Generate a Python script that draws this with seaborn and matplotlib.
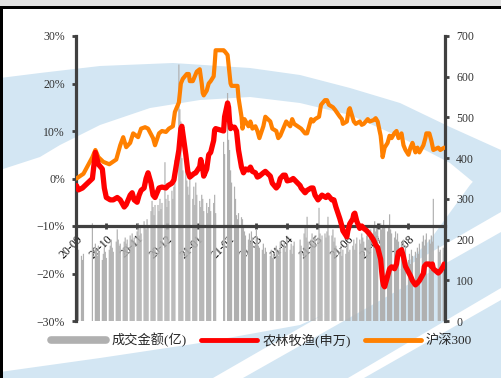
import numpy as np
import pandas as pd
import matplotlib
matplotlib.use("Agg")
import matplotlib.pyplot as plt
from matplotlib.lines import Line2D
from matplotlib.patches import Polygon, Rectangle
import seaborn as sns

# ---------------- data ----------------
holidays = ["2020-10-01", "2020-10-02", "2020-10-05", "2020-10-06", "2020-10-07", "2020-10-08",
            "2021-01-01", "2021-02-11", "2021-02-12", "2021-02-15", "2021-02-16", "2021-02-17",
            "2021-04-05", "2021-05-03", "2021-05-04", "2021-05-05", "2021-06-14",
            "2021-09-20", "2021-09-21"]

# turnover (亿), one value per trading day, grouped by week
volume = [
    170, 185, 175,
    160, 150, 165,
    240,
    190, 175, 160, 185, 170,
    150, 165, 180, 170, 155,
    175, 185, 200, 180, 170,
    195, 225, 200, 185, 190,
    180, 195, 205, 190, 200,
    210, 200, 215, 195, 205,
    220, 240, 210, 230, 215,
    245, 230, 225, 250, 235,
    270, 295, 280, 260, 285,
    285, 270, 300, 275, 290,
    390, 300, 280, 310, 295,
    320, 300, 330, 395,
    630, 520, 490, 400, 370,
    380, 345, 330, 310, 350,
    300, 330, 285, 340, 310,
    295, 280, 310, 300, 270,
    290, 265, 280, 300, 270,
    290, 310, 265,
    440, 410,
    560, 445, 420, 370, 340,
    330, 300, 260, 250, 265,
    255, 250, 230, 220, 210,
    200, 215, 190, 220, 205,
    190, 225, 200, 185, 180,
    175, 190, 165, 180, 170,
    160, 175, 155, 165,
    185, 170, 160, 175, 195,
    180, 195, 170, 185, 200,
    175, 190, 165, 185, 195,
    200, 185,
    215, 230, 205, 256, 195,
    200, 215, 190, 205, 210,
    205, 278, 215, 200, 210,
    215, 205, 220, 256, 210,
    210, 225, 195, 205, 185,
    170, 185, 160, 175,
    165, 180, 190, 170, 175,
    185, 200, 175, 190, 205,
    200, 190, 215, 205, 195,
    210, 220, 200, 215, 225,
    230, 245, 220, 235, 225,
    240, 225, 235, 248, 230,
    220, 235, 262, 225, 215,
    205, 220, 200, 215, 195,
    190, 175, 200, 165, 185,
    150, 165, 140, 175, 160,
    170, 155, 180, 165, 190,
    195, 210, 185, 200, 215,
    200, 190, 210, 195, 300,
    185, 170, 175,
    180, 165,
]

# 沪深300, cumulative change (%)
hs300_dates = [
    "2020-09-23", "2020-09-30", "2020-10-09", "2020-10-12", "2020-10-15", "2020-10-20", "2020-10-26",
    "2020-11-02", "2020-11-06", "2020-11-09", "2020-11-12", "2020-11-16", "2020-11-19", "2020-11-24",
    "2020-11-27", "2020-12-01", "2020-12-04", "2020-12-09", "2020-12-11", "2020-12-15", "2020-12-18",
    "2020-12-22", "2020-12-25", "2020-12-29", "2020-12-31", "2021-01-04", "2021-01-06", "2021-01-08",
    "2021-01-12", "2021-01-14", "2021-01-15", "2021-01-18", "2021-01-20", "2021-01-22", "2021-01-25",
    "2021-01-27", "2021-01-28", "2021-01-29", "2021-02-01", "2021-02-03", "2021-02-05", "2021-02-08",
    "2021-02-09", "2021-02-10", "2021-02-18", "2021-02-19", "2021-02-22", "2021-02-23", "2021-02-25",
    "2021-02-26", "2021-03-01", "2021-03-04", "2021-03-05", "2021-03-08", "2021-03-09", "2021-03-11",
    "2021-03-15", "2021-03-17", "2021-03-19", "2021-03-22", "2021-03-24", "2021-03-26", "2021-03-30",
    "2021-04-01", "2021-04-06", "2021-04-08", "2021-04-12", "2021-04-14", "2021-04-16", "2021-04-20",
    "2021-04-22", "2021-04-26", "2021-04-28", "2021-04-30", "2021-05-07", "2021-05-11", "2021-05-13",
    "2021-05-17", "2021-05-19", "2021-05-21", "2021-05-25", "2021-05-27", "2021-05-31", "2021-06-02",
    "2021-06-04", "2021-06-08", "2021-06-10", "2021-06-15", "2021-06-17", "2021-06-18", "2021-06-22",
    "2021-06-24", "2021-06-25", "2021-06-29", "2021-07-01", "2021-07-05", "2021-07-07", "2021-07-09",
    "2021-07-13", "2021-07-15", "2021-07-19", "2021-07-21", "2021-07-23", "2021-07-26", "2021-07-27",
    "2021-07-28", "2021-07-30", "2021-08-02", "2021-08-04", "2021-08-06", "2021-08-09", "2021-08-11",
    "2021-08-13", "2021-08-16", "2021-08-18", "2021-08-20", "2021-08-23", "2021-08-25", "2021-08-27",
    "2021-08-30", "2021-09-01", "2021-09-03", "2021-09-07", "2021-09-09", "2021-09-10", "2021-09-13",
    "2021-09-15", "2021-09-17", "2021-09-22", "2021-09-24", "2021-09-28",
]
hs300_vals = [
    0.0, 1.0, 4.5, 6.0, 4.5, 3.5, 3.0,
    4.0, 7.0, 8.7, 6.6, 7.5, 9.5, 8.7,
    10.5, 10.8, 10.5, 8.5, 7.0, 9.5, 10.0,
    9.8, 10.5, 11.0, 14.0, 16.0, 20.0, 21.0,
    22.0, 22.0, 20.5, 20.5, 21.5, 22.5, 23.0,
    20.0, 18.0, 17.5, 18.5, 20.0, 20.5, 21.5,
    24.0, 27.0, 27.0, 26.8, 26.0, 24.0, 20.0,
    19.5, 19.5, 19.5, 17.0, 13.0, 10.5, 12.5,
    11.0, 12.0, 10.5, 11.0, 10.0, 8.5, 11.0,
    13.0, 12.0, 10.5, 10.0, 8.5, 9.0, 11.0,
    12.0, 11.0, 12.5, 11.5, 10.5, 9.5, 9.5,
    12.5, 12.0, 12.5, 13.0, 15.5, 16.5, 16.5,
    15.5, 15.0, 14.5, 13.0, 12.5, 11.5, 12.0,
    14.5, 14.8, 12.0, 11.5, 12.0, 11.3, 11.5,
    12.5, 12.0, 12.3, 12.7, 12.0, 9.0, 7.0,
    4.5, 6.5, 7.5, 9.0, 8.5, 9.6, 10.0,
    8.5, 9.5, 7.0, 6.0, 5.0, 6.5, 7.5,
    5.5, 6.5, 5.5, 7.0, 8.5, 9.5, 9.5,
    8.0, 6.0, 6.5, 6.0, 6.5,
]

# 农林牧渔(申万), cumulative change (%)
agri_dates = [
    "2020-09-23", "2020-09-25", "2020-09-29", "2020-10-09", "2020-10-12", "2020-10-15", "2020-10-19",
    "2020-10-21", "2020-10-23", "2020-10-27", "2020-10-30", "2020-11-03", "2020-11-06", "2020-11-10",
    "2020-11-12", "2020-11-16", "2020-11-18", "2020-11-20", "2020-11-23", "2020-11-25", "2020-11-27",
    "2020-11-30", "2020-12-02", "2020-12-04", "2020-12-07", "2020-12-09", "2020-12-11", "2020-12-15",
    "2020-12-18", "2020-12-22", "2020-12-24", "2020-12-28", "2020-12-30", "2020-12-31", "2021-01-04",
    "2021-01-06", "2021-01-07", "2021-01-08", "2021-01-11", "2021-01-13", "2021-01-15", "2021-01-19",
    "2021-01-21", "2021-01-25", "2021-01-26", "2021-01-28", "2021-01-29", "2021-02-01", "2021-02-03",
    "2021-02-05", "2021-02-08", "2021-02-09", "2021-02-10", "2021-02-18", "2021-02-19", "2021-02-22",
    "2021-02-23", "2021-02-24", "2021-02-25", "2021-02-26", "2021-03-01", "2021-03-03", "2021-03-05",
    "2021-03-08", "2021-03-10", "2021-03-12", "2021-03-15", "2021-03-17", "2021-03-19", "2021-03-22",
    "2021-03-24", "2021-03-26", "2021-03-30", "2021-04-01", "2021-04-06", "2021-04-08", "2021-04-12",
    "2021-04-14", "2021-04-16", "2021-04-19", "2021-04-21", "2021-04-23", "2021-04-27", "2021-04-29",
    "2021-05-06", "2021-05-07", "2021-05-11", "2021-05-13", "2021-05-17", "2021-05-19", "2021-05-21",
    "2021-05-24", "2021-05-26", "2021-05-28", "2021-06-01", "2021-06-03", "2021-06-07", "2021-06-09",
    "2021-06-11", "2021-06-15", "2021-06-17", "2021-06-18", "2021-06-22", "2021-06-23", "2021-06-25",
    "2021-06-28", "2021-06-29", "2021-06-30", "2021-07-02", "2021-07-05", "2021-07-07", "2021-07-09",
    "2021-07-12", "2021-07-14", "2021-07-16", "2021-07-19", "2021-07-21", "2021-07-23", "2021-07-26",
    "2021-07-27", "2021-07-28", "2021-07-29", "2021-07-30", "2021-08-02", "2021-08-04", "2021-08-06",
    "2021-08-09", "2021-08-11", "2021-08-12", "2021-08-13", "2021-08-16", "2021-08-18", "2021-08-20",
    "2021-08-23", "2021-08-25", "2021-08-27", "2021-08-30", "2021-09-01", "2021-09-03", "2021-09-07",
    "2021-09-08", "2021-09-10", "2021-09-13", "2021-09-15", "2021-09-16", "2021-09-17", "2021-09-22",
    "2021-09-24", "2021-09-27", "2021-09-28",
]
agri_vals = [
    -1.5, -2.4, -2.0, 0.0, 5.5, 3.0, 2.0,
    -2.0, -4.0, -4.5, -4.5, -4.0, -4.5, -6.0,
    -5.5, -3.5, -3.0, -4.5, -5.0, -3.5, -2.5,
    -2.0, 0.0, 1.2, -1.0, -3.5, -4.0, -2.0,
    -1.8, -2.0, -1.5, -1.0, -0.3, 1.0, 6.0,
    10.5, 11.0, 9.5, 5.0, 1.5, 0.3, 1.0,
    1.2, 2.5, 4.0, 2.0, 0.5, 2.0, 5.0,
    5.5, 8.0, 10.2, 10.5, 10.0, 13.0, 15.9,
    15.0, 12.0, 10.5, 10.8, 10.8, 10.0, 6.0,
    2.4, 1.2, 2.0, 1.8, 2.4, 1.5, 1.2,
    0.3, 0.5, 1.2, 1.5, 0.5, -1.0, -2.0,
    -1.5, 0.0, 0.7, 0.7, -0.5, -0.3, 0.0,
    -1.5, -2.0, -3.0, -2.5, -2.0, -2.0, -3.5,
    -4.5, -4.0, -3.5, -4.0, -3.5, -4.5, -4.5,
    -6.0, -8.5, -10.0, -11.0, -12.3, -11.0, -9.5,
    -8.5, -7.5, -7.3, -9.0, -10.5, -10.0, -10.5,
    -11.0, -11.5, -12.0, -13.0, -14.0, -14.5, -17.0,
    -19.5, -21.5, -22.5, -22.8, -20.5, -19.0, -18.6,
    -19.0, -18.0, -16.5, -15.5, -15.0, -16.5, -18.5,
    -19.7, -20.5, -21.5, -22.4, -22.0, -21.5, -20.0,
    -18.5, -18.0, -18.0, -18.5, -18.0, -19.0, -19.9,
    -19.5, -18.5, -18.0,
]

left_ticks = [30, 20, 10, 0, -10, -20, -30]
right_ticks = [700, 600, 500, 400, 300, 200, 100, 0]
x_tick_dates = ["2020-09-23", "2020-10-23", "2020-11-23", "2020-12-23", "2021-01-23", "2021-02-23",
                "2021-03-23", "2021-04-23", "2021-05-23", "2021-06-23", "2021-07-23", "2021-08-23"]
x_tick_labels = ["20-09", "20-10", "20-11", "20-12", "21-01", "21-02",
                 "21-03", "21-04", "21-05", "21-06", "21-07", "21-08"]
legend_labels = ["成交金额(亿)", "农林牧渔(申万)", "沪深300"]

# ---------------- build ----------------
sns.set_theme(style="white")
plt.rcParams["font.family"] = ["Liberation Serif", "Noto Sans CJK SC", "DejaVu Sans"]
plt.rcParams["axes.unicode_minus"] = True

trade_days = pd.bdate_range("2020-09-23", "2021-09-28")
trade_days = trade_days[~trade_days.isin(pd.to_datetime(holidays))]
assert len(trade_days) == len(volume), (len(trade_days), len(volume))
vol_df = pd.DataFrame({"date": trade_days, "vol": volume})
hs_df = pd.DataFrame({"date": pd.to_datetime(hs300_dates), "val": hs300_vals})
ag_df = pd.DataFrame({"date": pd.to_datetime(agri_dates), "val": agri_vals})

W, H = 501, 378
fig = plt.figure(figsize=(W / 100, H / 100), dpi=100, facecolor="white")

# background decoration (pixel coordinates)
bg = fig.add_axes([0, 0, 1, 1])
bg.set_xlim(0, W)
bg.set_ylim(H, 0)
bg.axis("off")
blue = "#d3e6f3"
band_top = [(0, 78), (40, 73), (100, 66), (173, 63), (250, 68), (300, 75), (350, 88),
            (400, 103), (450, 127), (501, 150)]
band_bot = [(501, 205), (450, 163), (400, 137), (350, 115), (300, 103), (250, 97), (200, 100),
            (150, 108), (100, 125), (60, 145), (40, 157), (0, 170)]
bg.add_patch(Polygon(band_top + band_bot, closed=True, color=blue, lw=0))
low = [(0, 378), (0, 372), (100, 358), (200, 343), (300, 325), (380, 290), (430, 240),
       (470, 185), (501, 150), (501, 378)]
bg.add_patch(Polygon(low, closed=True, color=blue, lw=0))
bg.add_patch(Polygon([(213, 378), (243, 378), (501, 232), (501, 212)], closed=True, color="white", lw=0))
bg.add_patch(Polygon([(348, 378), (364, 378), (501, 300), (501, 288)], closed=True, color="white", lw=0))
bg.add_patch(Rectangle((0, 0), W, 6, color="#e2e2e2", lw=0))
bg.add_patch(Rectangle((0, 6), W, 3, color="black", lw=0))
bg.add_patch(Rectangle((0, 6), 3.5, H, color="black", lw=0))

# main axes (bars, right scale)
ax = fig.add_axes([76 / W, 1 - 321 / H, (445 - 76) / W, 285 / H])
ax.patch.set_visible(False)
bars = ax.bar(vol_df["date"], vol_df["vol"], width=1.2, color="#b0b0b0", lw=0, zorder=1)
for b in bars:
    b.set_snap(False)
ax.set_ylim(0, 700)
ax.set_xlim(pd.Timestamp("2020-09-22 12:00"), pd.Timestamp("2021-09-28 18:00"))

# line axes (percent, left scale)
ax2 = ax.twinx()
ax2.patch.set_visible(False)
sns.lineplot(data=hs_df, x="date", y="val", ax=ax2, color="#ff8000", lw=3.0)
sns.lineplot(data=ag_df, x="date", y="val", ax=ax2, color="#ff0000", lw=3.8)
ax2.set_ylim(-30, 30)
ax2.grid(False)
ax.grid(False)

spine_c = "#404040"
for s in ["top", "bottom", "left", "right"]:
    ax2.spines[s].set_visible(False)
ax.spines["top"].set_visible(False)
for s in ["left", "right", "bottom"]:
    ax.spines[s].set_color(spine_c)
    ax.spines[s].set_linewidth(2.3)
ax.spines["bottom"].set_position(("data", 700 / 3))

ax.yaxis.tick_right()
ax.set_yticks(right_ticks)
ax.set_yticklabels([str(v) for v in right_ticks])
ax2.yaxis.tick_left()
ax2.yaxis.set_label_position("left")
ax2.set_yticks(left_ticks)
ax2.set_yticklabels([f"{v}%".replace("-", "\u2212") for v in left_ticks])

ax.set_xticks(pd.to_datetime(x_tick_dates))
ax.set_xticklabels(x_tick_labels, rotation=45, ha="right", va="top", rotation_mode="anchor")

ax.tick_params(axis="x", direction="inout", length=4, width=2, color=spine_c, pad=3,
               labelsize=8.5, labelcolor="#111111", bottom=True)
ax.tick_params(axis="y", direction="out", length=3, width=2, color=spine_c, pad=5,
               labelsize=8.5, labelcolor="#333333", right=True, left=False)
ax2.tick_params(axis="y", direction="out", length=3, width=2, color=spine_c, pad=5,
                labelsize=8.5, labelcolor="#333333", left=True, right=False)
ax.set_xlabel("")
ax.set_ylabel("")
ax2.set_xlabel("")
ax2.set_ylabel("")

handles = [Line2D([], [], color="#b0b0b0", lw=5.5),
           Line2D([], [], color="#ff0000", lw=3.5),
           Line2D([], [], color="#ff8000", lw=3.5)]
fig.legend(handles, legend_labels, loc="center", bbox_to_anchor=(0.522, 1 - 340 / H), ncol=3,
           frameon=False, prop={"family": ["Liberation Serif", "Noto Sans CJK SC"], "size": 9.5},
           handlelength=4.2, handletextpad=0.4, columnspacing=1.1)

fig.savefig("out.png", dpi=100, facecolor="white")
